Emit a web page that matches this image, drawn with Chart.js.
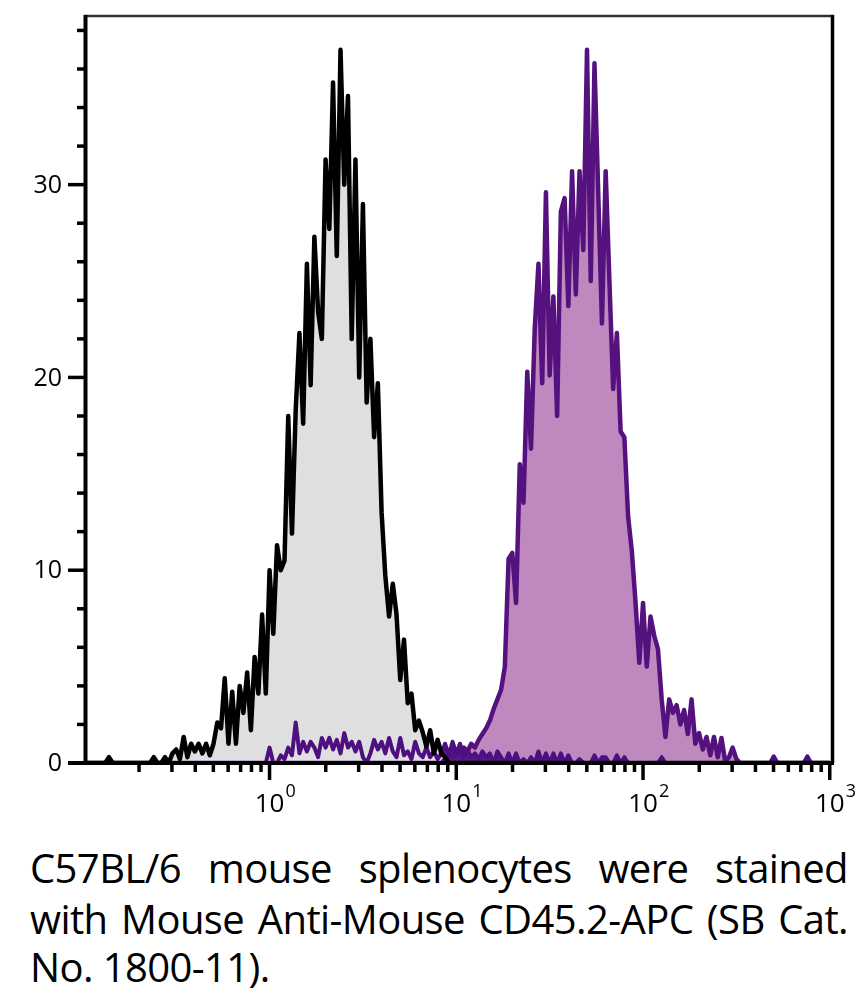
<!DOCTYPE html>
<html><head><meta charset="utf-8">
<script src="https://cdn.jsdelivr.net/npm/chart.js@4"></script>
<style>
html,body{margin:0;padding:0;background:#fff;}
#wrap{position:relative;width:864px;height:995px;overflow:hidden;}
#c{position:absolute;left:0;top:0;}
.cap{position:absolute;left:30px;width:818px;font-family:"Open Sans",sans-serif;font-size:40px;line-height:50px;color:#000;letter-spacing:-0.6px;}
.j{text-align:justify;text-align-last:justify;}
</style></head>
<body><div id="wrap"><canvas id="c" width="864" height="830" style="width:864px;height:830px"></canvas>
<div class="cap j" style="top:843px">C57BL/6 mouse splenocytes were stained</div>
<div class="cap j" style="top:894px">with Mouse Anti-Mouse CD45.2-APC (SB Cat.</div>
<div class="cap" style="top:942px">No. 1800-11).</div>
</div>
<script>
// Histogram bins: log10 channel start and step
const binStart = -1.0;
const binStep = 0.02;

// Unstained / isotype control (grey histogram)
const controlCounts = [
0,0,0,0,0,0,0,0.3,0,0,
0,0,0,0,0,0,0,0,0,0.3,
0,0,0.3,0,0.5,0.7,0.2,1.35,0.3,1.0,
0.6,1.0,0.5,1.0,0.4,1.0,2.1,1.8,4.4,1.0,
3.7,1.0,4.0,2.6,4.7,1.7,5.5,3.6,7.7,3.6,
10.0,6.7,11.3,10.0,10.5,18.0,11.9,18.3,22.3,17.6,
25.9,19.6,27.3,23.4,22.0,31.3,27.7,35.3,26.3,37.0,
30.0,34.6,22.0,31.3,20.0,29.0,18.7,22.0,16.9,19.7,
13.0,9.7,7.6,9.3,7.7,4.3,6.4,3.1,3.6,1.7,
2.2,1.6,0.85,1.7,0.5,1.2,0.5,0.3,0,0,
0,0,0,0,0,0,0,0,0,0,
0,0,0,0,0,0,0,0,0,0,
0,0,0,0,0,0,0,0,0,0,
0,0,0,0,0,0,0,0,0,0,
0,0,0,0,0,0,0,0,0,0,
0,0,0,0,0,0,0,0,0,0,
0,0,0,0,0,0,0,0,0,0,
0,0,0,0,0,0,0,0,0,0,
0,0,0,0,0,0,0,0,0,0,
0,0,0,0,0,0,0,0,0,0,
0
];

// CD45.2-APC stained (purple histogram)
const stainedCounts = [
0,0,0,0,0,0,0,0,0,0,
0,0,0,0,0,0,0,0,0,0,
0,0,0,0,0,0,0,0,0,0,
0,0,0,0,0,0,0,0,0,0,
0,0,0,0,0,0,0,0,0,0,
0,0,0,0,0,0,0,0,0,0,
0,0,0,0,0,0,0,0,0,0,
0,0,0,0,0,0,0,0,0,0,
0,0,0,0,0,0,0,0,0,0,
0,0,0,0,0,0,0,0.2,0.4,0.3,
0.6,0.4,0.8,0.6,1.0,0.8,1.2,1.5,1.8,2.2,
2.8,3.3,3.8,5.0,10.6,10.9,8.3,15.5,13.5,20.3,
16.3,22.5,25.9,19.7,29.6,20.1,24.2,18.0,28.6,29.3,
23.7,30.7,24.3,30.7,26.6,37.0,25.0,36.3,29.6,22.8,
30.7,25.0,19.4,22.3,17.2,16.9,12.8,11.0,8.3,5.2,
8.3,5.0,7.6,6.6,5.9,3.3,1.35,3.3,2.6,3.0,
2.0,2.75,1.5,3.3,1.0,1.55,0.7,1.35,0.4,1.35,
0.3,1.3,0.1,0.3,0.8,0.2,0,0,0,0,
0,0,0,0,0,0,0,0,0,0,
0,0,0,0,0,0,0,0,0,0,
0
];

// Low-level events (dark purple trace along the baseline)
const lowCounts = [
0,0,0,0,0,0,0,0,0,0,
0,0,0,0,0,0,0,0,0,0,
0,0,0,0,0,0,0,0,0,0,
0,0,0,0,0,0,0,0,0,0,
0,0,0,0,0,0,0,0,0,0,
0.8,0,0,0.4,0.2,0.8,0.4,2.1,0.5,1.1,
0.6,1.1,0.8,0.3,1.3,0.8,1.3,0.7,1.2,0.5,
1.55,0.8,1.1,0.6,1.1,0.3,0,0.5,1.2,0.7,
1.1,0.5,1.3,0.6,0.3,1.3,0.4,0.6,0.2,1.1,
0.5,0.3,0.8,0.3,0.6,0.2,0.5,1.0,0.4,1.1,
0.5,1.0,0.3,0.7,0.3,0.5,0.2,0.6,0.3,0.5,
0,0.6,0.3,0,0.5,0,0.5,0,0.2,0,
0.3,0,0.6,0,0.5,0,0.5,0,0.5,0,
0.4,0,0,0.2,0,0,0,0.4,0,0.3,
0.3,0,0,0.4,0,0.3,0,0,0,0,
0,0,0,0,0,0.3,0,0,0,0,
0,0,0,0,0,0,0,0,0,0,
0,0,0,0,0,0,0,0,0,0,
0,0,0,0,0,0.35,0,0,0,0,
0,0,0,0,0.35,0,0,0,0,0,
0
];

const yMajorTicks = [0, 10, 20, 30];
const yMinorTicks = [2, 4, 6, 8, 12, 14, 16, 18, 22, 24, 26, 28, 32, 34, 36, 38];
const xDecadeExponents = [0, 1, 2, 3];
const xMinorMultipliers = [2, 3, 4, 5, 6, 7, 8, 9];
const xMinorDecades = [-1, 0, 1, 2];

const bins = controlCounts.map((_, i) => Math.pow(10, binStart + i * binStep));
const pts = arr => arr.map((v, i) => ({x: bins[i], y: v}));

const axesPlugin = {
  id: 'axesDraw',
  afterDraw(chart) {
    const {ctx, chartArea: a, scales: {x, y}} = chart;
    const ln = (x1, y1, x2, y2) => { ctx.beginPath(); ctx.moveTo(x1, y1); ctx.lineTo(x2, y2); ctx.stroke(); };
    ctx.save();
    ctx.lineCap = 'butt';
    ctx.strokeStyle = '#333'; ctx.lineWidth = 2.5;
    ln(a.left - 2, a.top + 1, a.right + 2, a.top + 1);
    ctx.strokeStyle = '#000'; ctx.lineWidth = 3.5;
    ln(a.right + 0.5, a.top, a.right + 0.5, a.bottom);
    ctx.lineWidth = 4;
    ln(a.left - 0.5, a.top, a.left - 0.5, a.bottom);
    ln(a.left - 18, a.bottom, a.right + 2, a.bottom);
    ctx.lineWidth = 3.5;
    ctx.fillStyle = '#000';
    ctx.font = '25px "Open Sans", sans-serif';
    ctx.textAlign = 'right'; ctx.textBaseline = 'middle';
    yMinorTicks.forEach(v => { const p = y.getPixelForValue(v); ln(a.left - 9, p, a.left, p); });
    yMajorTicks.forEach(v => {
      const p = y.getPixelForValue(v);
      ln(a.left - 18, p, a.left, p);
      ctx.fillText(String(v), a.left - 24, p + 1);
    });
    xMinorDecades.forEach(d => xMinorMultipliers.forEach(m => {
      const v = m * Math.pow(10, d);
      if (v <= x.min || v >= x.max) return;
      const p = x.getPixelForValue(v);
      ln(p, a.bottom, p, a.bottom + 9);
    }));
    xDecadeExponents.forEach(e => {
      const p = x.getPixelForValue(Math.pow(10, e));
      ln(p, a.bottom, p, a.bottom + 17);
      ctx.font = '26px "Open Sans", sans-serif';
      ctx.textAlign = 'center'; ctx.textBaseline = 'alphabetic';
      const w = ctx.measureText('10').width;
      ctx.fillText('10', p, a.bottom + 49);
      ctx.font = '18px "Open Sans", sans-serif';
      ctx.textAlign = 'left';
      ctx.fillText(String(e), p + w / 2 + 1, a.bottom + 34);
    });
    ctx.restore();
  }
};

new Chart(document.getElementById('c'), {
  type: 'line',
  data: {
    datasets: [
      {label: 'Control', data: pts(controlCounts), borderColor: '#000', backgroundColor: '#dfdfdf', borderWidth: 4.5, fill: 'origin', pointRadius: 0, tension: 0, borderJoinStyle: 'round'},
      {label: 'Low events', data: pts(lowCounts), borderColor: '#4e0f80', backgroundColor: '#561a88', borderWidth: 4, fill: 'origin', pointRadius: 0, tension: 0, borderJoinStyle: 'round'},
      {label: 'CD45.2-APC', data: pts(stainedCounts), borderColor: '#55127f', backgroundColor: '#bf89bf', borderWidth: 4.5, fill: 'origin', pointRadius: 0, tension: 0, borderJoinStyle: 'round'}
    ]
  },
  options: {
    responsive: false,
    animation: false,
    layout: {padding: {left: 86, right: 32, top: 15, bottom: 67}},
    plugins: {legend: {display: false}, tooltip: {enabled: false}, filler: {drawTime: 'beforeDatasetsDraw'}},
    scales: {
      x: {type: 'logarithmic', min: 0.104, max: 1028, display: false},
      y: {type: 'linear', min: 0, max: 38.8, display: false}
    }
  },
  plugins: [axesPlugin]
});
</script>
</body></html>
